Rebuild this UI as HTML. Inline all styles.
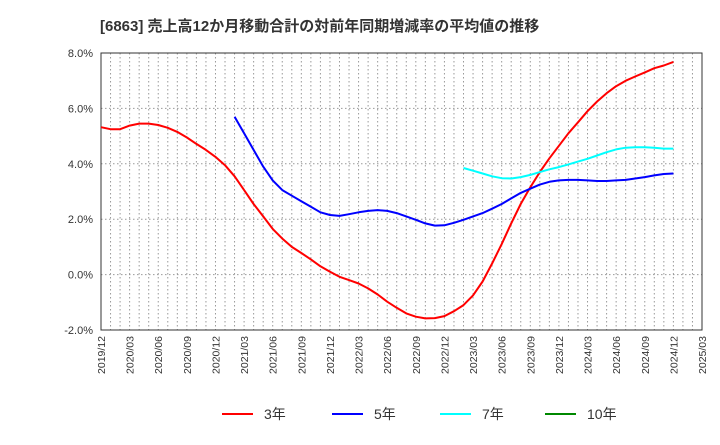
<!DOCTYPE html>
<html><head><meta charset="utf-8"><style>
body{margin:0;background:#fff;font-family:"Liberation Sans","Noto Sans CJK JP",sans-serif;}
</style></head><body>
<svg id="c" width="720" height="440" xmlns="http://www.w3.org/2000/svg" font-family="Liberation Sans, Noto Sans CJK JP, sans-serif">
<text x="100" y="31" font-size="15" font-weight="bold" fill="#333">[6863]  売上高12か月移動合計の対前年同期増減率の平均値の推移</text>
<g id="grid"></g><g id="axes"></g><g id="series"></g><g id="legend"></g>
</svg>
<script>
const xLabels=["2019/12","2020/03","2020/06","2020/09","2020/12","2021/03","2021/06","2021/09","2021/12","2022/03","2022/06","2022/09","2022/12","2023/03","2023/06","2023/09","2023/12","2024/03","2024/06","2024/09","2024/12","2025/03"];
const yTicks=[-2,0,2,4,6,8];
const s3=[5.32,5.25,5.25,5.38,5.45,5.45,5.4,5.3,5.15,4.95,4.72,4.5,4.25,3.95,3.55,3.05,2.55,2.1,1.65,1.3,1.0,0.78,0.55,0.3,0.1,-0.08,-0.2,-0.32,-0.5,-0.72,-0.98,-1.2,-1.4,-1.52,-1.58,-1.57,-1.5,-1.32,-1.1,-0.75,-0.25,0.4,1.1,1.85,2.55,3.15,3.7,4.2,4.65,5.1,5.5,5.9,6.25,6.55,6.8,7.0,7.15,7.3,7.45,7.55,7.68];
const s5start=14;
const s5=[5.7,5.1,4.5,3.9,3.4,3.05,2.85,2.65,2.45,2.25,2.15,2.12,2.18,2.25,2.3,2.33,2.3,2.22,2.1,1.98,1.85,1.77,1.78,1.87,1.98,2.1,2.22,2.38,2.55,2.75,2.95,3.1,3.25,3.35,3.4,3.42,3.42,3.4,3.38,3.38,3.4,3.42,3.47,3.52,3.58,3.63,3.65];
const s7start=38;
const s7=[3.85,3.75,3.65,3.55,3.48,3.47,3.52,3.6,3.7,3.8,3.88,3.98,4.08,4.18,4.3,4.42,4.52,4.58,4.6,4.6,4.58,4.55,4.55];
const s10=[];
const L=101,R=702,T=53,B=330,NM=63;
const X=m=>L+(R-L)*m/NM;
const Y=v=>B-(v+2)/10*(B-T);
const NS="http://www.w3.org/2000/svg";
function mk(p,t,a){const e=document.createElementNS(NS,t);for(const k in a)e.setAttribute(k,a[k]);document.getElementById(p).appendChild(e);return e;}
let e;
for(let m=1;m<NM;m++){e=mk("grid","line",{x1:X(m),x2:X(m),y1:T,y2:B,stroke:"#999","stroke-dasharray":"1.5,2.5","stroke-width":1});

}
yTicks.forEach(v=>{e=mk("grid","line",{x1:L,x2:R,y1:Y(v),y2:Y(v),stroke:"#999","stroke-dasharray":"1.5,2.5","stroke-width":1});


e=mk("axes","text",{x:L-8,y:Y(v)+4,"text-anchor":"end","font-size":11,fill:"#333"});e.textContent=v.toFixed(1)+"%";

});
e=mk("axes","rect",{x:L,y:T,width:R-L,height:B-T,fill:"none",stroke:"#333","stroke-width":1});


xLabels.forEach((t,i)=>{const x=X(i*3);e=mk("axes","text",{x:x+4,y:B+6,"text-anchor":"end","font-size":10.5,fill:"#333",transform:`rotate(-90 ${x+4} ${B+6})`});e.textContent=t;

});
function line(arr,start,col,name){if(!arr.length)return;const d=arr.map((v,i)=>(i?"L":"M")+X(start+i).toFixed(1)+","+Y(v).toFixed(1)).join("");
e=mk("series","path",{d:d,fill:"none",stroke:col,"stroke-width":2,"stroke-linejoin":"round"});

}
line(s3,0,"#f00","series-3y");line(s5,s5start,"#00f","series-5y");line(s7,s7start,"#0ff","series-7y");line(s10,0,"#080","series-10y");
[["3年","#f00",222],["5年","#00f",332],["7年","#0ff",440],["10年","#080",545]].forEach(([t,c,x])=>{
e=mk("legend","line",{x1:x,x2:x+31,y1:414,y2:414,stroke:c,"stroke-width":2});


e=mk("legend","text",{x:x+42,y:419,"font-size":14,fill:"#333"});e.textContent=t;

});
</script>
</body></html>
